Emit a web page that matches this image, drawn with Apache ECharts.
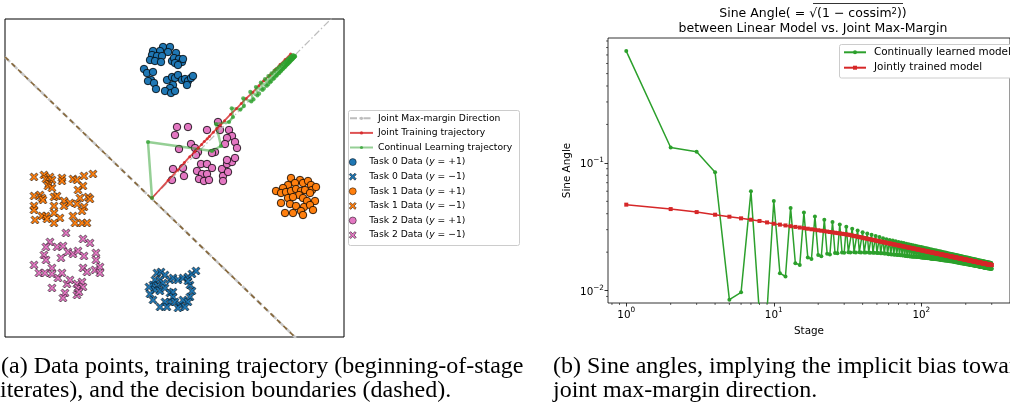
<!DOCTYPE html>
<html><head><meta charset="utf-8">
<script src="https://cdn.jsdelivr.net/npm/echarts@6/dist/echarts.min.js"></script>
<style>html,body{margin:0;padding:0;background:#fff}#c{width:1010px;height:404px}</style>
</head><body><div id="c"></div>
<script>
// ---------- right panel data ----------
const stages = Array.from({length: 300}, (_, i) => i + 1);
const continualSine = [
0.75,0.132,0.122,0.0844,0.0085,0.0097,0.0599,0.0065,0.007,0.0503,
0.0137,0.0129,0.0444,0.0164,0.0159,0.0409,0.0182,0.0177,0.0381,0.019,
0.0186,0.0359,0.0194,0.0192,0.0344,0.0197,0.0196,0.033,0.0199,0.0198,
0.0316,0.02,0.0199,0.0305,0.02,0.0199,0.0296,0.02,0.0199,0.0287,
0.0199,0.0199,0.02802,0.0199,0.0198,0.02737,0.0198,0.0198,0.02679,0.0197,
0.0197,0.02625,0.0196,0.0196,0.02575,0.0195,0.0195,0.02529,0.0194,0.0193,
0.02495,0.0193,0.0192,0.02464,0.0192,0.0191,0.02434,0.0191,0.019,0.02407,
0.019,0.0189,0.0238,0.0189,0.0188,0.02355,0.0188,0.0187,0.02331,0.0187,
0.0186,0.02309,0.0186,0.0185,0.02287,0.0185,0.0184,0.02266,0.0184,0.0184,
0.02246,0.0184,0.0183,0.02227,0.0183,0.0183,0.02209,0.0183,0.0182,0.02192,
0.0182,0.0181,0.02175,0.0181,0.0181,0.02158,0.018,0.018,0.02142,0.018,
0.0179,0.02127,0.0179,0.0179,0.02112,0.0178,0.0178,0.02098,0.0178,0.0177,
0.02084,0.0177,0.0177,0.0207,0.0177,0.0176,0.02057,0.0176,0.0176,0.02044,
0.0175,0.0175,0.02032,0.0175,0.0174,0.0202,0.0174,0.0174,0.02008,0.0173,
0.0173,0.01997,0.0173,0.0172,0.01986,0.0172,0.0172,0.01975,0.0172,0.0171,
0.01965,0.0171,0.0171,0.01955,0.0171,0.017,0.01945,0.017,0.017,0.01935,
0.017,0.0169,0.01925,0.0169,0.0169,0.01916,0.0168,0.0168,0.01907,0.0168,
0.0167,0.01898,0.0167,0.0167,0.01889,0.0166,0.0166,0.01881,0.0166,0.0165,
0.01873,0.0165,0.0165,0.01865,0.0164,0.0164,0.01857,0.0164,0.0164,0.01849,
0.0163,0.0163,0.01841,0.0163,0.0163,0.01834,0.0162,0.0162,0.01827,0.0162,
0.0162,0.0182,0.0161,0.0161,0.01813,0.0161,0.0161,0.01806,0.016,0.016,
0.01799,0.016,0.016,0.01792,0.0159,0.0159,0.01785,0.0159,0.0159,0.01779,
0.0158,0.0158,0.01773,0.0158,0.0158,0.01767,0.0157,0.0157,0.01761,0.0157,
0.0157,0.01755,0.0156,0.0156,0.01749,0.0156,0.0156,0.01743,0.0156,0.0155,
0.01737,0.0155,0.0155,0.01731,0.0155,0.0155,0.01725,0.0154,0.0154,0.0172,
0.0154,0.0154,0.01715,0.0154,0.0153,0.0171,0.0153,0.0153,0.01705,0.0153,
0.0153,0.017,0.0152,0.0152,0.01695,0.0152,0.0152,0.0169,0.0152,0.0151,
0.01685,0.0151,0.0151,0.0168,0.0151,0.0151,0.01676,0.0151,0.015,0.01671,
0.015,0.015,0.01667,0.015,0.015,0.01663,0.015,0.0149,0.01659,0.0149,
0.0149,0.01655,0.0149,0.0149,0.0165,0.0149,0.0148,0.01646,0.0148,0.0148
];
const jointSine = [
0.0471,0.0435,0.0412,0.0393,0.0379,0.0368,0.0359,0.0351,0.0342,0.0334,
0.03286,0.03238,0.03194,0.03154,0.03118,0.03084,0.03052,0.03022,0.02995,0.02969,
0.02944,0.02921,0.02899,0.02878,0.02858,0.02839,0.02821,0.02804,0.02787,0.02771,
0.02756,0.0274,0.02719,0.027,0.0268,0.02662,0.02644,0.02627,0.0261,0.02594,
0.02578,0.02563,0.02549,0.02534,0.0252,0.02507,0.02494,0.02481,0.02468,0.02456,
0.02444,0.02432,0.02421,0.0241,0.02399,0.02389,0.02378,0.02368,0.02358,0.02348,
0.02339,0.0233,0.0232,0.02311,0.02303,0.02294,0.02286,0.02277,0.02269,0.02261,
0.02254,0.02246,0.02238,0.02231,0.02224,0.02216,0.02209,0.02202,0.02195,0.02189,
0.02182,0.02175,0.02169,0.02163,0.02156,0.0215,0.02144,0.02138,0.02132,0.02126,
0.02121,0.02115,0.0211,0.02104,0.02098,0.02093,0.02088,0.02082,0.02077,0.02072,
0.02068,0.02063,0.02058,0.02053,0.02048,0.02043,0.02038,0.02033,0.02029,0.02024,
0.0202,0.02015,0.02011,0.02006,0.02002,0.01998,0.01994,0.01989,0.01985,0.01981,
0.01978,0.01974,0.0197,0.01966,0.01962,0.01958,0.01954,0.01951,0.01947,0.01943,
0.0194,0.01936,0.01933,0.01929,0.01926,0.01922,0.01919,0.01915,0.01912,0.01909,
0.01905,0.01902,0.01899,0.01895,0.01892,0.01889,0.01886,0.01882,0.01879,0.01876,
0.01873,0.0187,0.01867,0.01864,0.01861,0.01858,0.01855,0.01852,0.01849,0.01846,
0.01844,0.01841,0.01838,0.01835,0.01832,0.0183,0.01827,0.01824,0.01821,0.01819,
0.01817,0.01814,0.01812,0.01809,0.01807,0.01804,0.01801,0.01799,0.01796,0.01794,
0.01792,0.01789,0.01787,0.01784,0.01782,0.0178,0.01777,0.01775,0.01773,0.0177,
0.01768,0.01766,0.01764,0.01762,0.01759,0.01757,0.01755,0.01753,0.01751,0.01749,
0.01747,0.01745,0.01742,0.0174,0.01738,0.01736,0.01734,0.01732,0.0173,0.01728,
0.01726,0.01724,0.01722,0.0172,0.01718,0.01716,0.01714,0.01712,0.0171,0.01708,
0.01706,0.01704,0.01703,0.01701,0.01699,0.01697,0.01695,0.01693,0.01691,0.0169,
0.01688,0.01686,0.01684,0.01683,0.01681,0.01679,0.01677,0.01676,0.01674,0.01672,
0.01671,0.01669,0.01667,0.01666,0.01664,0.01662,0.01661,0.01659,0.01657,0.01656,
0.01654,0.01653,0.01651,0.01649,0.01648,0.01646,0.01645,0.01643,0.01642,0.0164,
0.01638,0.01637,0.01635,0.01634,0.01632,0.01631,0.01629,0.01628,0.01626,0.01625,
0.01624,0.01622,0.01621,0.01619,0.01618,0.01616,0.01615,0.01613,0.01612,0.01611,
0.01609,0.01608,0.01606,0.01605,0.01604,0.01602,0.01601,0.016,0.01598,0.01597,
0.01596,0.01594,0.01593,0.01592,0.0159,0.01589,0.01588,0.01586,0.01585,0.01584
];
const xMinorTicks = [0.8,0.9,2,3,4,5,6,7,8,9,20,30,40,50,60,70,80,90,200,300];
const yMinorTicks = [0.009,0.02,0.03,0.04,0.05,0.06,0.07,0.08,0.09,0.2,0.3,0.4,0.5,0.6,0.7,0.8,0.9];

// ---------- left panel data ----------
const task0Pos = [[1.1,15.1],[1.8,15.1],[2.4,14.5],[1.6,14.6],[0.8,14.7],[0.1,14.7],[0,14.3],[0.5,14.2],[1,14.2],[-0.2,13.8],[0.3,13.7],[0.9,13.6],[2,13.7],[2.2,14],[2.7,13.9],[3,13.6],[3.1,13.9],[2.3,13.5],[2.6,13.3],[-0.8,12.9],[-0.5,12.5],[0.1,12.6],[-0.1,11.8],[-0.4,11.7],[0.2,11.5],[0.4,10.9],[1.5,11.8],[2,12.1],[2.3,12],[2.6,12.3],[3,11.8],[3.3,11.9],[3.6,11.7],[3.9,12],[4.1,12.2],[3.5,11.3],[2.1,11.3],[1.8,11],[1.3,10.7],[1.9,10.5],[2.3,10.7]];
const task0Neg = [[0.5,-7.5],[0.9,-7.4],[1.3,-7.7],[1.8,-8.2],[2.1,-8],[2.6,-8.2],[3.1,-8],[3.6,-7.9],[4,-7.6],[0.3,-8.2],[0.8,-8.2],[0.1,-8.7],[0.6,-8.8],[1.1,-8.5],[0.3,-9.2],[0.8,-9.3],[1.3,-9],[1.8,-9.5],[2.1,-9.4],[2.1,-9.9],[1.8,-10.4],[2.3,-10.4],[2.8,-10.7],[3.1,-10.2],[3.8,-8.7],[4,-9.3],[3.8,-9.9],[3.6,-10.4],[3.3,-10.9],[2.6,-11],[1.3,-10.4],[0.8,-10.9],[1.5,-10.9],[3.6,-8.3],[-0.3,-8.9],[-0.2,-9.6],[4.4,-7.3],[0.1,-10.2]];
const task1Pos = [[13.9,2],[14.8,1.8],[15.1,1.5],[15.6,1.7],[15.9,1.3],[16,0.8],[16.4,1.1],[14.3,1.5],[13.6,1.3],[13.1,1],[12.4,0.7],[12.9,0.5],[13.4,0.6],[13.9,0.7],[14.4,0.9],[14.9,0.7],[15.3,0.8],[15.8,0.5],[14.7,0.3],[13.6,0],[14.1,0.1],[15.1,0],[15.5,-0.3],[16.3,-0.3],[12.9,-0.5],[13.8,-0.6],[14.4,-0.8],[15.2,-0.9],[15.8,-0.7],[13.3,-1.5],[14.1,-1.5],[14.9,-1.3],[15.1,-1.7],[16.1,-1.2]];
const task1Neg = [[-11.8,2.1],[-10.8,2.3],[-10.6,1.9],[-10.2,2.1],[-10,1.8],[-10.3,1.4],[-10.4,1.2],[-10,1],[-9,2],[-9,1.7],[-7.9,1.9],[-7.5,1.8],[-6.8,2.2],[-5.9,2.4],[-6.9,1.2],[-7.4,0.8],[-11.8,0.2],[-11.2,0.3],[-11,0],[-10.9,-0.2],[-9.8,0.1],[-9.5,0.2],[-8.8,-0.3],[-8.8,-0.8],[-8.2,-0.5],[-7.5,-0.6],[-7.2,0],[-6.4,0.1],[-6.2,-0.1],[-6.8,-0.9],[-7,-1.3],[-11.8,-0.8],[-11.8,-1.2],[-9.8,-0.8],[-9.8,-1.5],[-11,-1.8],[-10.6,-1.8],[-10.5,-2.1],[-11.7,-2.2],[-9.2,-2],[-9.8,-2.5],[-7.9,-1.8],[-7.7,-2.5],[-7,-2.5],[-6.5,-2.5]];
const task2Pos = [[2.5,7.1],[3.6,7.1],[2.3,6.3],[5.5,6.8],[6.6,7.6],[6.8,6.8],[7.7,6.8],[8,6.2],[7.5,6],[8.3,5.6],[8.5,5],[7.3,5.4],[6.3,4.6],[2.7,4.9],[3.9,5.4],[4.3,5],[4.6,4.6],[6,4.5],[4.4,4.3],[2.1,2.9],[3.1,3],[3.2,2.2],[2,1.8],[4.9,3.4],[5.5,3.4],[6,3],[4.5,2.7],[5,2.4],[5.5,2.4],[4.7,1.9],[5.2,1.7],[5.7,1.8],[7,2.9],[7.5,3.4],[8,3.6],[8.3,4],[7.5,3.8],[7.1,2.2],[7.1,1.7],[7.6,2.6]];
const task2Neg = [[-8.6,-3.5],[-6.9,-4.1],[-6.2,-4.5],[-10.2,-4.4],[-10.6,-4.9],[-9.5,-4.9],[-8.9,-4.8],[-10.8,-5.7],[-10.6,-6.2],[-9.1,-6],[-8.4,-5.4],[-7.9,-5.6],[-7.4,-5.3],[-6.8,-5.8],[-5.6,-5.5],[-5.6,-6.2],[-11.8,-6.7],[-11.3,-7.5],[-10.7,-7.5],[-10,-7],[-10,-7.6],[-9.4,-8],[-9,-7.5],[-6.9,-7],[-6.5,-7.4],[-5.7,-7.2],[-5.2,-6.9],[-5.2,-7.5],[-10,-9],[-8.5,-8.6],[-8.2,-8.2],[-7.5,-8.6],[-7.4,-9],[-7,-8.4],[-6.9,-8.9],[-8.7,-9.5],[-8.9,-10],[-7.5,-9.7],[-7.3,-9.4]];
const jointTrajectory = [[0,0],[1.62,1.77],[2.57,2.8],[3.24,3.54],[3.78,4.13],[4.28,4.62],[4.62,4.99],[4.96,5.36],[5.23,5.65],[5.52,5.92],[5.73,6.14],[6.14,6.58],[6.48,6.95],[6.85,7.29],[7.26,7.73],[7.87,8.38],[8.45,8.94],[8.93,9.45],[9.41,9.95],[10.07,10.57],[10.69,11.23],[11.17,11.73],[11.77,12.27],[12.32,12.85],[12.8,13.35],[13.31,13.84],[13.87,14.41]];
const continualTrajectory = [[0,0],[-0.4,5.6],[6.0,4.7],[6.9,5.2],[6.4,7.4],[7.7,7.6],[8.1,8.1],[7.97,8.97],[8.84,8.84],[9.19,9.19],
[9.12,9.97],[9.93,9.65],[10.15,9.86],[9.83,10.61],[10.54,10.25],[10.71,10.43],[10.39,11.1],[11.05,10.8],[11.19,10.94],
[10.88,11.53],[11.48,11.22],[11.62,11.36],[11.3,11.89],[11.82,11.58],[11.93,11.69],[11.64,12.19],[12.13,11.91],[12.24,12.01],
[11.96,12.47],[12.41,12.2],[12.49,12.28],[12.24,12.71],[12.66,12.45],[12.74,12.52],[12.49,12.91],[12.87,12.67],[12.94,12.74],
[12.71,13.1],[13.06,12.88],[13.12,12.94],[12.9,13.27],[13.24,13.05],[13.29,13.11],[13.08,13.42],[13.39,13.22],[13.43,13.27],
[13.24,13.56],[13.53,13.36],[13.57,13.4],[13.39,13.67],[13.65,13.49],[13.69,13.53],[13.51,13.78],[13.76,13.6],[13.8,13.64],
[13.63,13.88],[13.86,13.72],[13.89,13.75],[13.74,13.98],[13.96,13.82],[13.99,13.85],[13.83,14.06],[14.04,13.9],[14.07,13.93],
[13.92,14.14],[14.12,13.99],[14.15,14.02],[14.01,14.21],[14.21,14.08],[14.23,14.11],[14.11,14.29],[14.28,14.16],[14.3,14.18]];
const maxMarginDirection = [[0,0],[18,18]];
const boundaryLine = [[-14.7,14.1],[14.4,-14.0]];

const lineNames = ['Joint Max-margin Direction','Joint Training trajectory','Continual Learning trajectory'];
const dataNames = ['Task 0 Data (y = +1)','Task 0 Data (y = \u22121)','Task 1 Data (y = +1)','Task 1 Data (y = \u22121)','Task 2 Data (y = +1)','Task 2 Data (y = \u22121)'];
const rightNames = ['Continually learned model','Jointly trained model'];

const C_BLUE='#1f77b4', C_ORANGE='#ff7f0e', C_PINK='#e377c2', C_GREEN='#2ca02c', C_RED='#d62728';
const XPATH = 'path://M0,2 L2,0 L5,3 L8,0 L10,2 L7,5 L10,8 L8,10 L5,7 L2,10 L0,8 L3,5 Z';
const FONT = 'DejaVu Sans';

function scatterSeries(name, data, color, isX) {
  return {
    type: 'scatter', name, data, xAxisIndex: 0, yAxisIndex: 0, z: 2,
    symbol: isX ? XPATH : 'circle', symbolSize: isX ? 8 : 7.5,
    itemStyle: {color, borderColor: '#000', borderWidth: isX ? 0.6 : 0.8, opacity: 1},
    silent: true
  };
}
function powFmt(v) {
  const e = Math.log10(v), r = Math.round(e);
  if (Math.abs(e - r) > 1e-6) return '';
  return '{b|10}{s|' + (r < 0 ? '\u2212' + (-r) : r) + '}';
}
const powRich = {
  b: {fontSize: 10.4, fontFamily: FONT, color: '#000', lineHeight: 13, verticalAlign: 'bottom'},
  s: {fontSize: 7.3, fontFamily: FONT, color: '#000', lineHeight: 7, verticalAlign: 'top'}
};

const chart = echarts.init(document.getElementById('c'), null, {renderer: 'canvas'});
const option = {
  animation: false,
  backgroundColor: '#fff',
  textStyle: {fontFamily: FONT},
  grid: [
    {left: 5, top: 19, width: 339, height: 318, show: true, borderColor: '#000', borderWidth: 1, backgroundColor: 'transparent'},
    {left: 608, top: 38, width: 411, height: 265, show: true, borderColor: '#000', borderWidth: 0.8, backgroundColor: 'transparent'}
  ],
  xAxis: [
    {gridIndex: 0, type: 'value', min: -14.7, max: 19.2, show: false},
    {gridIndex: 1, type: 'log', logBase: 10, min: 0.752, max: 399,
     axisLine: {show: false}, splitLine: {show: false},
     axisTick: {show: true, length: 3.5, lineStyle: {color: '#000', width: 0.8}},
     axisLabel: {formatter: powFmt, rich: powRich, margin: 4, showMinLabel: false, showMaxLabel: false},
     name: 'Stage', nameLocation: 'middle', nameGap: 23,
     nameTextStyle: {fontSize: 10.4, fontFamily: FONT, color: '#000'}}
  ],
  yAxis: [
    {gridIndex: 0, type: 'value', min: -13.9, max: 17.9, show: false},
    {gridIndex: 1, type: 'log', logBase: 10, min: 0.008, max: 0.95,
     axisLine: {show: false}, splitLine: {show: false},
     axisTick: {show: true, length: 3.5, lineStyle: {color: '#000', width: 0.8}},
     axisLabel: {formatter: powFmt, rich: powRich, margin: 4, showMinLabel: false, showMaxLabel: false},
     name: 'Sine Angle', nameLocation: 'middle', nameGap: 36, nameRotate: 90,
     nameTextStyle: {fontSize: 10.4, fontFamily: FONT, color: '#000'}}
  ],
  legend: [
    {data: lineNames, orient: 'vertical', left: 348, top: 113.3, padding: [0,0,0,1],
     itemWidth: 23, itemHeight: 4, itemGap: 4.6, selectedMode: false,
     textStyle: {fontSize: 9.2, fontFamily: FONT, color: '#000', lineHeight: 10}},
    {data: dataNames, orient: 'vertical', left: 348, top: 157.1, padding: [0,0,0,1],
     itemWidth: 23, itemHeight: 7, itemGap: 4.6, selectedMode: false,
     itemStyle: {borderWidth: 0.5, borderColor: '#000'},
     formatter: n => n.replace('(y', '({i|y}'),
     textStyle: {fontSize: 9.2, fontFamily: FONT, color: '#000', lineHeight: 10,
       rich: {i: {fontSize: 9.2, fontFamily: FONT, fontStyle: 'italic', color: '#000', lineHeight: 10}}}},
    {data: rightNames, orient: 'vertical', left: 843, top: 46.8, padding: 0,
     itemWidth: 22, itemHeight: 5, itemGap: 4.4, selectedMode: false,
     textStyle: {fontSize: 10.4, fontFamily: FONT, color: '#000', lineHeight: 11, padding: [0,0,0,3]}}
  ],
  graphic: [
    {type: 'rect', z: 3, shape: {x: 348.5, y: 110.5, width: 171, height: 135, r: 2},
     style: {fill: '#fff', stroke: '#cccccc', lineWidth: 1}},
    {type: 'rect', z: 3, shape: {x: 839.5, y: 44.5, width: 200, height: 33.5, r: 2},
     style: {fill: '#fff', stroke: '#cccccc', lineWidth: 1}},
    {type: 'text', z: 5, x: 813, y: 13.5, style: {text: 'Sine Angle( = \u221a(1 \u2212 cossim{s|2}))',
      fontSize: 12.5, fontFamily: FONT, fill: '#000', align: 'center', verticalAlign: 'middle',
      rich: {s: {fontSize: 8.5, fontFamily: FONT, fill: '#000', lineHeight: 8, verticalAlign: 'top'}}}},
    {type: 'line', z: 5, shape: {x1: 813, y1: 3.5, x2: 903, y2: 3.5}, style: {stroke: '#000', lineWidth: 0.8}},
    {type: 'text', z: 5, x: 813, y: 28.5, style: {text: 'between Linear Model vs. Joint Max-Margin',
      fontSize: 12.5, fontFamily: FONT, fill: '#000', align: 'center', verticalAlign: 'middle'}},
    {type: 'text', z: 5, x: 1, y: 367, style: {text: '(a) Data points, training trajectory (beginning-of-stage',
      fontSize: 24, fontFamily: 'Liberation Serif', fill: '#000', verticalAlign: 'middle'}},
    {type: 'text', z: 5, x: 0, y: 390.5, style: {text: 'iterates), and the decision boundaries (dashed).',
      fontSize: 24, fontFamily: 'Liberation Serif', fill: '#000', verticalAlign: 'middle'}},
    {type: 'text', z: 5, x: 553, y: 367, style: {text: '(b) Sine angles, implying the implicit bias towards the',
      fontSize: 24, fontFamily: 'Liberation Serif', fill: '#000', verticalAlign: 'middle'}},
    {type: 'text', z: 5, x: 553, y: 390.5, style: {text: 'joint max-margin direction.',
      fontSize: 24, fontFamily: 'Liberation Serif', fill: '#000', verticalAlign: 'middle'}}
  ],
  series: [
    scatterSeries(dataNames[0], task0Pos, C_BLUE, false),
    scatterSeries(dataNames[1], task0Neg, C_BLUE, true),
    scatterSeries(dataNames[2], task1Pos, C_ORANGE, false),
    scatterSeries(dataNames[3], task1Neg, C_ORANGE, true),
    scatterSeries(dataNames[4], task2Pos, C_PINK, false),
    scatterSeries(dataNames[5], task2Neg, C_PINK, true),
    {type: 'line', name: 'boundary-joint', data: boundaryLine, xAxisIndex: 0, yAxisIndex: 0, z: 3,
     symbol: 'none', silent: true, lineStyle: {color: '#c8c8c8', width: 2.5, type: [7, 3]}},
    {type: 'line', name: 'boundary-continual', data: boundaryLine, xAxisIndex: 0, yAxisIndex: 0, z: 3,
     symbol: 'none', silent: true, lineStyle: {color: '#86683c', width: 1.7, type: [5, 4]}},
    {type: 'line', name: lineNames[0], data: maxMarginDirection, xAxisIndex: 0, yAxisIndex: 0, z: 4,
     symbol: 'none', silent: true, lineStyle: {color: '#bdbdbd', width: 1.2, type: [7, 2.5, 1.5, 2.5]},
     itemStyle: {color: '#bdbdbd'}},
    {type: 'line', name: lineNames[1], data: jointTrajectory, xAxisIndex: 0, yAxisIndex: 0, z: 4,
     symbol: 'circle', symbolSize: 3, showAllSymbol: true, silent: true,
     lineStyle: {color: C_RED, width: 1.8, opacity: 0.8}, itemStyle: {color: C_RED, opacity: 0.85}},
    {type: 'line', name: lineNames[2], data: continualTrajectory, xAxisIndex: 0, yAxisIndex: 0, z: 4,
     symbol: 'circle', symbolSize: 4.2, showAllSymbol: true, silent: true,
     lineStyle: {color: C_GREEN, width: 2.5, opacity: 0.5}, itemStyle: {color: C_GREEN, opacity: 0.75}},
    {type: 'line', name: rightNames[0], data: stages.map((s, i) => [s, continualSine[i]]),
     xAxisIndex: 1, yAxisIndex: 1, z: 3, symbol: 'circle', symbolSize: 4, showAllSymbol: true, silent: true,
     lineStyle: {color: C_GREEN, width: 1.5}, itemStyle: {color: C_GREEN}},
    {type: 'line', name: rightNames[1], data: stages.map((s, i) => [s, jointSine[i]]),
     xAxisIndex: 1, yAxisIndex: 1, z: 3, symbol: 'rect', symbolSize: 4, showAllSymbol: true, silent: true,
     lineStyle: {color: C_RED, width: 1.5}, itemStyle: {color: C_RED}},
    {type: 'custom', name: 'xminor', xAxisIndex: 1, yAxisIndex: 1, silent: true, clip: false,
     data: xMinorTicks.map(v => [v, 0.1]),
     renderItem: (params, api) => {
       const cs = params.coordSys, x = api.coord([api.value(0), 0.1])[0], yb = cs.y + cs.height;
       return {type: 'line', shape: {x1: x, y1: yb, x2: x, y2: yb + 2}, style: {stroke: '#000', lineWidth: 0.6}};
     }},
    {type: 'custom', name: 'yminor', xAxisIndex: 1, yAxisIndex: 1, silent: true, clip: false,
     data: yMinorTicks.map(v => [1, v]),
     renderItem: (params, api) => {
       const cs = params.coordSys, y = api.coord([1, api.value(1)])[1], xl = cs.x;
       return {type: 'line', shape: {x1: xl, y1: y, x2: xl - 2, y2: y}, style: {stroke: '#000', lineWidth: 0.6}};
     }}
  ]
};
chart.setOption(option);
</script>
</body></html>
